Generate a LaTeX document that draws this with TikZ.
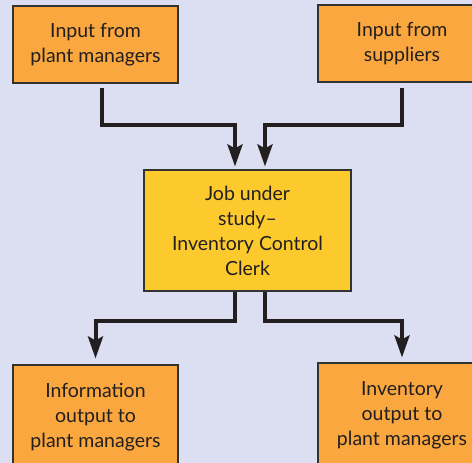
\documentclass[tikz,border=0pt]{standalone}
\usepackage{fontspec}
\setmainfont{Lato}
\usetikzlibrary{arrows.meta,calc}
\definecolor{bgc}{HTML}{DCDFF2}
\definecolor{orangec}{HTML}{F9A73E}
\definecolor{yellowc}{HTML}{FDCA2E}
\definecolor{edgec}{HTML}{333333}
\definecolor{inkc}{HTML}{231F20}
\begin{document}
\begin{tikzpicture}[x=1pt,y=-1pt,
  box/.style={draw=edgec, line width=1.1pt, fill=orangec, align=center,
    inner sep=0pt, font=\fontsize{19.5}{25}\selectfont, text=inkc},
  flow/.style={line width=4pt, draw=inkc, line join=miter,
    -{Stealth[length=22pt,width=15pt,inset=4pt]}}]
\useasboundingbox (0,0) rectangle (472,463);
\fill[bgc] (0,0) rectangle (472,463);

% boxes
\node[box, minimum width=165pt, minimum height=77pt] (tl) at (95.5,44.5)
  {Input from\\plant managers};
\node[box, minimum width=168pt, minimum height=77pt] (tr) at (402,43.5)
  {Input from\\suppliers};
\node[box, fill=yellowc, minimum width=207pt, minimum height=121pt] (job) at (247.5,230.5)
  {Job under\\study–\\Inventory Control\\Clerk};
\node[box, minimum width=165pt, minimum height=104pt] (bl) at (95.5,417)
  {Information\\output to\\plant managers};
\node[box, minimum width=168pt, minimum height=104pt] (br) at (402,415)
  {Inventory\\output to\\plant managers};

% entry and exit points on the central box
\coordinate (in1) at ([xshift=-12.5pt]job.north);
\coordinate (in2) at ([xshift=17.5pt]job.north);
\coordinate (out1) at ([xshift=-12.5pt]job.south);
\coordinate (out2) at ([xshift=17.5pt]job.south);

% inputs
\draw[flow, shorten <=4pt, shorten >=3pt] ([xshift=6pt]tl.south) -- ++(0,41.7) -| (in1);
\draw[flow, shorten <=5pt, shorten >=3pt] (tr.south) -- ++(0,42.7) -| (in2);

% outputs
\draw[flow, shorten >=6pt] (out1) -- ++(0,29.7) -| (bl.north);
\draw[flow, shorten >=5pt] (out2) -- ++(0,29.7) -| (br.north);
\end{tikzpicture}
\end{document}
